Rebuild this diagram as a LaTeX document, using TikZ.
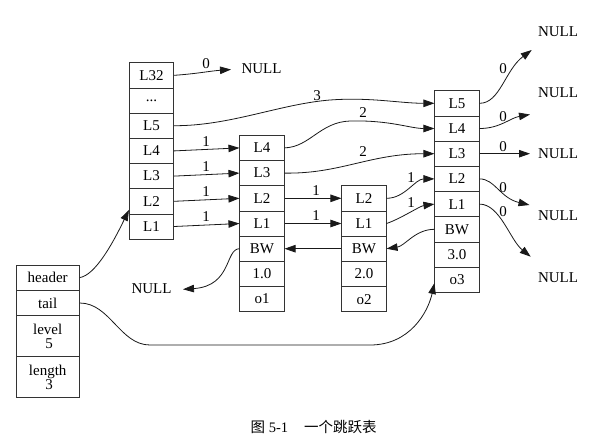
\documentclass[tikz,border=0pt]{standalone}
\usepackage{fontspec}
\setmainfont{Liberation Serif}
\newfontfamily\cjk{Noto Sans CJK SC}
\usetikzlibrary{arrows.meta}
\begin{document}
\begin{tikzpicture}[x=1pt,y=-1pt,
  every node/.style={font=\fontsize{15}{14.5}\selectfont},
  cell/.style={draw=black!80, line width=0.8pt, minimum width=44.3pt, minimum height=25.2pt, inner sep=0pt},
  hcell/.style={cell, minimum width=63.3pt},
  lbl/.style={inner sep=0pt},
  conn/.style={draw=black!90, line width=0.8pt, -{Triangle[length=11pt,width=7.5pt]}},
]
\useasboundingbox (0,0) rectangle (594,437);

% header column (level array of header)
\node[cell] (hL32) at (151.5,75.3) {L32};
\node[cell] (hdots) at (151.5,100.5) {...};
\node[cell] (hL5) at (151.5,125.7) {L5};
\node[cell] (hL4) at (151.5,150.9) {L4};
\node[cell] (hL3) at (151.5,176.1) {L3};
\node[cell] (hL2) at (151.5,201.3) {L2};
\node[cell] (hL1) at (151.5,226.5) {L1};

% node 1
\node[cell] (aL4) at (262,147.9) {L4};
\node[cell] (aL3) at (262,173.1) {L3};
\node[cell] (aL2) at (262,198.3) {L2};
\node[cell] (aL1) at (262,223.5) {L1};
\node[cell] (aBW) at (262,248.7) {BW};
\node[cell] (aSc) at (262,273.9) {1.0};
\node[cell] (aOb) at (262,299.1) {o1};

% node 2
\node[cell] (bL2) at (364,198.3) {L2};
\node[cell] (bL1) at (364,223.5) {L1};
\node[cell] (bBW) at (364,248.7) {BW};
\node[cell] (bSc) at (364,273.9) {2.0};
\node[cell] (bOb) at (364,299.1) {o2};

% node 3
\node[cell] (cL5) at (457,103.3) {L5};
\node[cell] (cL4) at (457,128.5) {L4};
\node[cell] (cL3) at (457,153.7) {L3};
\node[cell] (cL2) at (457,178.9) {L2};
\node[cell] (cL1) at (457,204.1) {L1};
\node[cell] (cBW) at (457,229.3) {BW};
\node[cell] (cSc) at (457,254.5) {3.0};
\node[cell] (cOb) at (457,279.7) {o3};

% list structure
\node[hcell] (sHead) at (47.7,277.6) {header};
\node[hcell] (sTail) at (47.7,303) {tail};
\node[hcell, minimum height=41pt, align=center] (sLevel) at (47.7,336.2) {level\\\hspace{3pt}5};
\node[hcell, minimum height=41pt, align=center] (sLen) at (47.7,377.2) {length\\\hspace{3pt}3};

% NULL nodes
\node[lbl] (n0) at (261.5,69) {NULL};
\node[lbl] (n1) at (558,31.5) {NULL};
\node[lbl] (n2) at (558,92.5) {NULL};
\node[lbl] (n3) at (558,154) {NULL};
\node[lbl] (n4) at (558,216) {NULL};
\node[lbl] (n5) at (558,277.5) {NULL};
\node[lbl] (n6) at (151.5,289) {NULL};

\coordinate (t0) at (231,69.5);
\coordinate (t1) at (531.7,50);
\coordinate (t2) at (530,114.5);
\coordinate (t3) at (530,153.7);
\coordinate (t4) at (529.5,205);
\coordinate (t5) at (530.7,256.7);
\coordinate (t6) at (183,289.3);

% connectors
\draw[conn] (hL32.east) .. controls (195,74) and (210,71) .. (t0);
\draw[conn] (hL5.east) .. controls (230,126) and (280,104) .. (330,100) .. controls (370,97) and (400,103.3) .. (cL5.west);
\draw[conn] (hL4.east) -- (aL4.west);
\draw[conn] (hL3.east) -- (aL3.west);
\draw[conn] (hL2.east) -- (aL2.west);
\draw[conn] (hL1.east) -- (aL1.west);

\draw[conn] (aL4.east) .. controls (310,147) and (320,122) .. (350,121) .. controls (390,120) and (410,128.5) .. (cL4.west);
\draw[conn] (aL3.east) .. controls (340,174) and (370,153.7) .. (cL3.west);
\draw[conn] (aL2.east) -- (bL2.west);
\draw[conn] (aL1.east) -- (bL1.west);

\draw[conn] (bL2.east) .. controls (405,198.3) and (415,178.9) .. (cL2.west);
\draw[conn] (bL1.east) .. controls (400,219) and (420,206) .. (cL1.west);

\draw[conn] (cBW.west) .. controls (415,229.3) and (405,246) .. (bBW.east);
\draw[conn] (bBW.west) -- (aBW.east);
\draw[conn] (aBW.west) .. controls (225,249) and (232,286) .. (t6);

\draw[conn] (cL5.east) .. controls (500,103.3) and (505,70) .. (t1);
\draw[conn] (cL4.east) .. controls (500,128.5) and (510,118) .. (t2);
\draw[conn] (cL3.east) -- (t3);
\draw[conn] (cL2.east) .. controls (495,178.9) and (500,198) .. (t4);
\draw[conn] (cL1.east) .. controls (500,204.1) and (510,240) .. (t5);

\draw[conn] (sHead.east) .. controls (95,275) and (112,245) .. ([yshift=4.5pt]hL2.south west);
\draw[conn] (sTail.east) .. controls (110,303) and (120,345) .. (150,345) -- (370,345) .. controls (410,345) and (428,312) .. ([yshift=-3.3pt]cOb.west);

% edge labels
\node[lbl] (e0) at (206,64) {0};
\node[lbl] (e1) at (317,95.5) {3};
\node[lbl] (e2) at (206,142) {1};
\node[lbl] (e3) at (206,167) {1};
\node[lbl] (e4) at (206,192) {1};
\node[lbl] (e5) at (206,217) {1};
\node[lbl] (e6) at (363,113) {2};
\node[lbl] (e7) at (363,152) {2};
\node[lbl] (e8) at (316,190.5) {1};
\node[lbl] (e9) at (316,216) {1};
\node[lbl] (e10) at (411,178) {1};
\node[lbl] (e11) at (411,203) {1};
\node[lbl] (e12) at (503,68.3) {0};
\node[lbl] (e13) at (503,116.5) {0};
\node[lbl] (e14) at (503,147) {0};
\node[lbl] (e15) at (503,187.7) {0};
\node[lbl] (e16) at (503,212) {0};

% caption
\node[lbl, font=\fontsize{14.5}{17}\selectfont] (cap) at (313.7,427.5) {{\cjk 图} 5-1\hspace{16pt}{\cjk 一个跳跃表}};
\end{tikzpicture}
\end{document}
